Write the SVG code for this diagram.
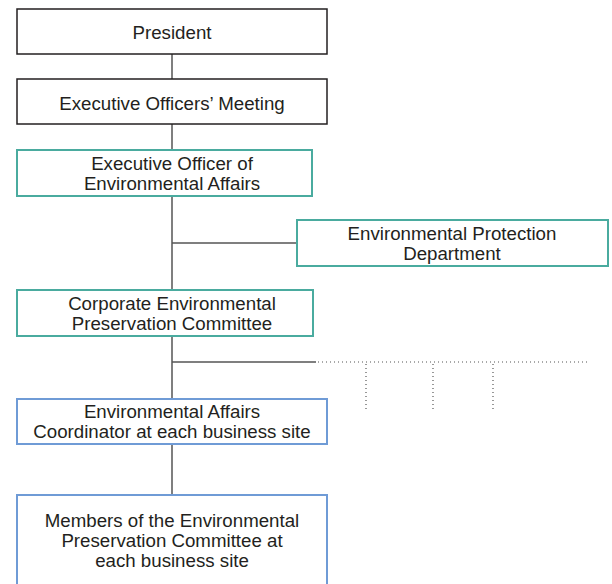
<svg xmlns="http://www.w3.org/2000/svg" width="612" height="584" viewBox="0 0 612 584">
<style>
.box{fill:#fff;stroke-width:2}
.k{stroke:#231f20;stroke-width:1.5}
.t{stroke:#4aab9f}
.b{stroke:#6f9bd6}
text{font-family:"Liberation Sans",Arial,sans-serif;font-size:18.7px;fill:#231f20;text-anchor:middle}
.ln{stroke:#555;stroke-width:1.5;fill:none}
.dot{stroke:#555;stroke-width:1.2;fill:none;stroke-dasharray:1 3}
</style>
<rect width="612" height="584" fill="#fff"/>
<g id="connectors">
<line class="ln" x1="172" y1="54" x2="172" y2="79"/>
<line class="ln" x1="172" y1="124" x2="172" y2="149"/>
<line class="ln" x1="172" y1="196" x2="172" y2="289"/>
<line class="ln" x1="172" y1="243" x2="296" y2="243"/>
<line class="ln" x1="172" y1="336" x2="172" y2="398"/>
<line class="ln" x1="172" y1="362" x2="316" y2="362"/>
<line class="dot" x1="318" y1="362" x2="588" y2="362"/>
<line class="dot" x1="366" y1="364" x2="366" y2="411"/>
<line class="dot" x1="433" y1="364" x2="433" y2="411"/>
<line class="dot" x1="493" y1="364" x2="493" y2="411"/>
<line class="ln" x1="172" y1="444" x2="172" y2="494"/>
</g>
<g id="president">
<rect class="box k" x="17" y="9" width="310" height="45"/>
<text x="172" y="39">President</text>
</g>
<g id="exec-meeting">
<rect class="box k" x="17" y="79" width="310" height="45"/>
<text x="172" y="110">Executive Officers’ Meeting</text>
</g>
<g id="exec-officer">
<rect class="box t" x="17" y="150" width="295" height="46"/>
<text x="172" y="170">Executive Officer of</text>
<text x="172" y="190">Environmental Affairs</text>
</g>
<g id="epd">
<rect class="box t" x="297" y="220" width="311" height="46"/>
<text x="452" y="240">Environmental Protection</text>
<text x="452" y="260">Department</text>
</g>
<g id="corporate">
<rect class="box t" x="17" y="290" width="296" height="46"/>
<text x="172" y="310">Corporate Environmental</text>
<text x="172" y="330">Preservation Committee</text>
</g>
<g id="coordinator">
<rect class="box b" x="17" y="399" width="310" height="45"/>
<text x="172" y="418">Environmental Affairs</text>
<text x="172" y="438">Coordinator at each business site</text>
</g>
<g id="members">
<rect class="box b" x="17" y="495" width="310" height="100"/>
<text x="172" y="527">Members of the Environmental</text>
<text x="172" y="547">Preservation Committee at</text>
<text x="172" y="567">each business site</text>
</g>
</svg>
